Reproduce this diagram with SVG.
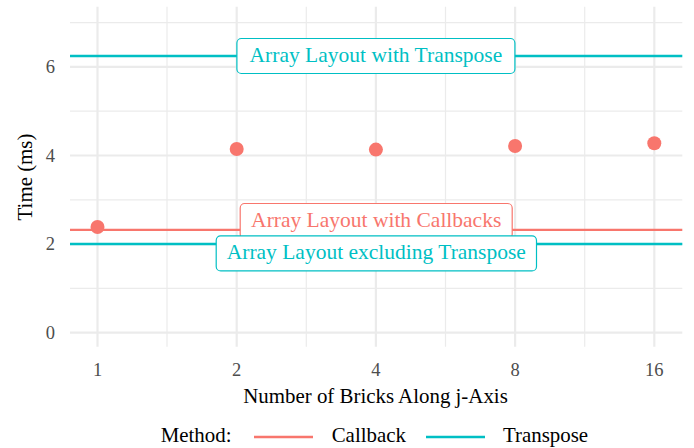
<svg xmlns="http://www.w3.org/2000/svg" width="694" height="448" viewBox="0 0 694 448">
<style>
text { font-family: "Liberation Serif", "Times New Roman", serif; }
.major { stroke: #EBEBEB; stroke-width: 2.2; fill: none; }
.minor { stroke: #EBEBEB; stroke-width: 1.2; fill: none; }
.tick { fill: #4D4D4D; font-size: 18.5px; }
.title { fill: #000000; font-size: 20.9px; }
.cb { stroke: #F8766D; }
.tr { stroke: #00BFC4; }
.hline { stroke-width: 2.3; fill: none; }
.pt { fill: #F8766D; }
.lbox { fill: #FFFFFF; stroke-width: 1.2; }
.ltext { font-size: 21.5px; text-anchor: middle; }
</style>
<rect x="0" y="0" width="694" height="448" fill="#FFFFFF"/>
<g id="grid">
  <line class="minor" x1="70" y1="22.6" x2="682.3" y2="22.6"/>
  <line class="minor" x1="70" y1="111.2" x2="682.3" y2="111.2"/>
  <line class="minor" x1="70" y1="199.8" x2="682.3" y2="199.8"/>
  <line class="minor" x1="70" y1="288.4" x2="682.3" y2="288.4"/>
  <line class="minor" x1="167" y1="6.7" x2="167" y2="346.7"/>
  <line class="minor" x1="306.3" y1="6.7" x2="306.3" y2="346.7"/>
  <line class="minor" x1="445.5" y1="6.7" x2="445.5" y2="346.7"/>
  <line class="minor" x1="584.7" y1="6.7" x2="584.7" y2="346.7"/>
  <line class="major" x1="70" y1="66.9" x2="682.3" y2="66.9"/>
  <line class="major" x1="70" y1="155.5" x2="682.3" y2="155.5"/>
  <line class="major" x1="70" y1="244.1" x2="682.3" y2="244.1"/>
  <line class="major" x1="70" y1="332.7" x2="682.3" y2="332.7"/>
  <line class="major" x1="97.5" y1="6.7" x2="97.5" y2="346.7"/>
  <line class="major" x1="236.7" y1="6.7" x2="236.7" y2="346.7"/>
  <line class="major" x1="375.9" y1="6.7" x2="375.9" y2="346.7"/>
  <line class="major" x1="515.1" y1="6.7" x2="515.1" y2="346.7"/>
  <line class="major" x1="654.3" y1="6.7" x2="654.3" y2="346.7"/>
</g>
<g id="axes">
  <text class="tick" x="55" y="73.2" text-anchor="end">6</text>
  <text class="tick" x="55" y="161.8" text-anchor="end">4</text>
  <text class="tick" x="55" y="250.4" text-anchor="end">2</text>
  <text class="tick" x="55" y="339" text-anchor="end">0</text>
  <text class="tick" x="97.5" y="375.5" text-anchor="middle">1</text>
  <text class="tick" x="236.7" y="375.5" text-anchor="middle">2</text>
  <text class="tick" x="375.9" y="375.5" text-anchor="middle">4</text>
  <text class="tick" x="515.1" y="375.5" text-anchor="middle">8</text>
  <text class="tick" x="654.3" y="375.5" text-anchor="middle">16</text>
  <text class="title" x="375.5" y="403.3" text-anchor="middle">Number of Bricks Along j-Axis</text>
  <text class="title" transform="translate(31.5,177) rotate(-90)" x="0" y="0" text-anchor="middle">Time (ms)</text>
</g>
<g id="connectors">
  <line class="hline tr" x1="70" y1="56" x2="682.3" y2="56"/>
  <line class="hline cb" x1="70" y1="229.8" x2="682.3" y2="229.8"/>
  <line class="hline tr" x1="70" y1="244" x2="682.3" y2="244"/>
</g>
<g id="points">
  <circle class="pt" cx="97.5" cy="227" r="7"/>
  <circle class="pt" cx="236.7" cy="149" r="7"/>
  <circle class="pt" cx="375.9" cy="149.6" r="7"/>
  <circle class="pt" cx="515.1" cy="146" r="7"/>
  <circle class="pt" cx="654.3" cy="143.3" r="7"/>
</g>
<g id="label-transpose">
  <rect class="lbox tr" x="236.9" y="38.5" width="278" height="35" rx="4.5"/>
  <text class="ltext" x="375.9" y="61.6" fill="#00BFC4">Array Layout with Transpose</text>
</g>
<g id="label-callbacks">
  <rect class="lbox cb" x="240.2" y="203.5" width="272" height="35.3" rx="4.5"/>
  <text class="ltext" x="376.2" y="226.7" fill="#F8766D">Array Layout with Callbacks</text>
</g>
<g id="label-excluding">
  <rect class="lbox tr" x="216.2" y="235.9" width="320.3" height="35" rx="4.5"/>
  <text class="ltext" x="376.3" y="259" fill="#00BFC4">Array Layout excluding Transpose</text>
</g>
<g id="legend">
  <text class="title" x="160.7" y="442.3">Method:</text>
  <line class="hline cb" x1="254" y1="437" x2="313" y2="437"/>
  <text class="title" x="331.7" y="442.3">Callback</text>
  <line class="hline tr" x1="426" y1="437" x2="485" y2="437"/>
  <text class="title" x="503" y="442.3">Transpose</text>
</g>
</svg>
